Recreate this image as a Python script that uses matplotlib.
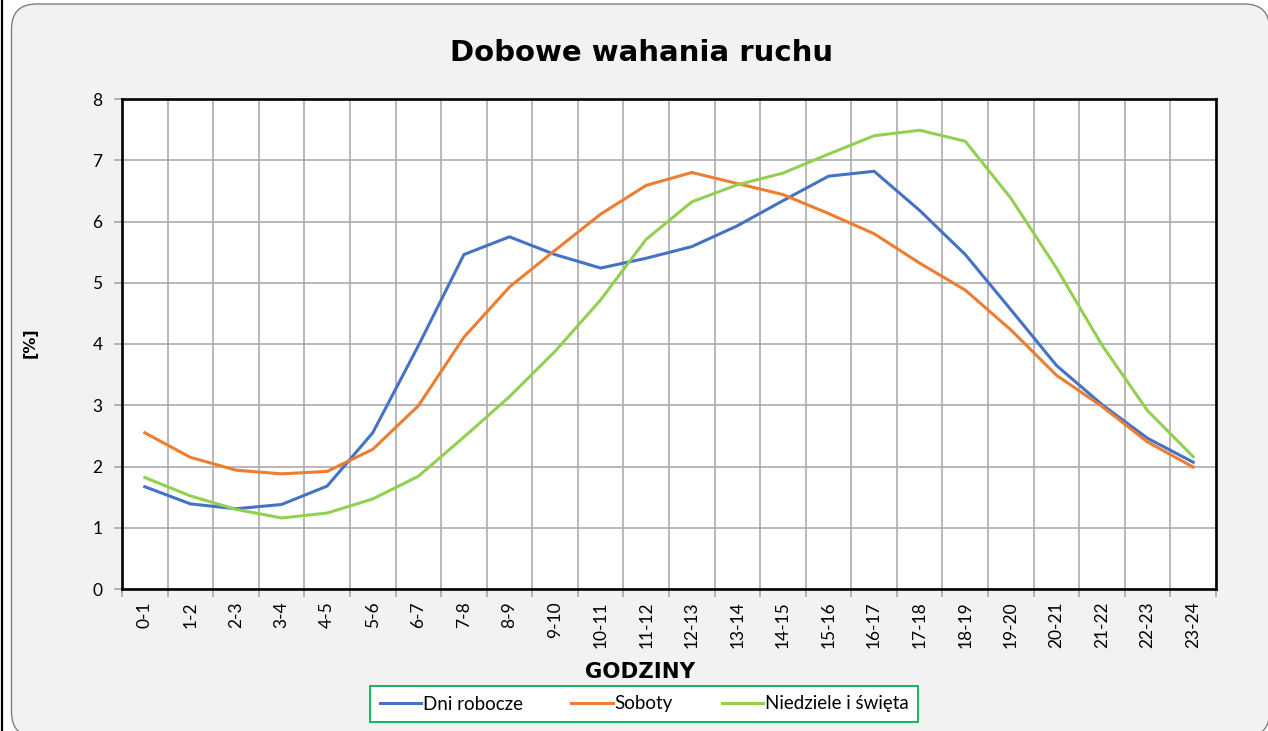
import matplotlib
matplotlib.use("Agg")
import matplotlib.pyplot as plt
from matplotlib.patches import FancyBboxPatch
from matplotlib.lines import Line2D
import numpy as np

plt.rcParams["font.family"] = ["Lato", "DejaVu Sans"]

hours = ["0-1", "1-2", "2-3", "3-4", "4-5", "5-6", "6-7", "7-8", "8-9", "9-10",
         "10-11", "11-12", "12-13", "13-14", "14-15", "15-16", "16-17", "17-18",
         "18-19", "19-20", "20-21", "21-22", "22-23", "23-24"]

dni_robocze = [1.67, 1.39, 1.31, 1.38, 1.68, 2.55, 3.97, 5.46, 5.75, 5.46, 5.24, 5.40,
               5.59, 5.93, 6.34, 6.74, 6.82, 6.18, 5.46, 4.56, 3.65, 3.01, 2.46, 2.07]
soboty = [2.55, 2.15, 1.94, 1.88, 1.92, 2.28, 2.99, 4.11, 4.93, 5.53, 6.12, 6.59,
          6.80, 6.62, 6.44, 6.13, 5.80, 5.32, 4.88, 4.23, 3.49, 2.98, 2.40, 1.99]
niedziele = [1.82, 1.52, 1.30, 1.16, 1.24, 1.47, 1.84, 2.48, 3.14, 3.88, 4.72, 5.71,
             6.32, 6.60, 6.79, 7.10, 7.40, 7.49, 7.31, 6.38, 5.24, 3.98, 2.91, 2.16]

series = [
    ("Dni robocze", dni_robocze, "#4472C4"),
    ("Soboty", soboty, "#ED7D31"),
    ("Niedziele i święta", niedziele, "#92D050"),
]

W, H = 1268, 731
fig = plt.figure(figsize=(W / 100, H / 100), dpi=100)
fig.patch.set_facecolor("white")

# rounded chart area (Excel style)
bg = FancyBboxPatch((0.115, -0.06), 12.58, 7.33,
                    boxstyle="round,pad=0,rounding_size=0.25",
                    transform=fig.dpi_scale_trans, facecolor="#F2F2F2",
                    edgecolor="#7F7F7F", linewidth=1.0, zorder=-10)
fig.patches.append(bg)
fig.lines.append(Line2D([2 / W, 2 / W], [0, 1], transform=fig.transFigure,
                        color="black", linewidth=1.6, zorder=-5))

ax = fig.add_axes([122 / W, 1 - 589 / H, (1216 - 122) / W, (589 - 99) / H])
ax.set_facecolor("white")

x = np.arange(len(hours))
for label, vals, color in series:
    ax.plot(x, vals, color=color, linewidth=2.2, label=label, zorder=3,
            solid_joinstyle="round")

ax.set_xlim(-0.5, len(hours) - 0.5)
ax.set_ylim(0, 8)
ax.set_yticks(range(0, 9))
ax.set_xticks(x)
ax.set_xticklabels(hours, rotation=90, fontsize=12.5)
ax.set_xticks(np.arange(-0.5, len(hours), 1.0), minor=True)
ax.tick_params(axis="x", which="major", length=0, pad=9)
ax.tick_params(axis="x", which="minor", length=6, color="#A6A6A6", width=1.2)
ax.tick_params(axis="y", length=6, color="#A6A6A6", width=1.2, labelsize=12.5, pad=8)

ax.grid(True, axis="y", color="#ABABAB", linewidth=1.2, zorder=1)
ax.grid(True, axis="x", which="minor", color="#ABABAB", linewidth=1.2, zorder=1)
ax.set_axisbelow(True)
for s in ax.spines.values():
    s.set_color("black")
    s.set_linewidth(1.9)
    s.set_zorder(4)

bold = ["DejaVu Sans"]
fig.text(642 / W, 1 - 53 / H, "Dobowe wahania ruchu", ha="center", va="center",
         fontsize=21, fontweight="bold", family=bold)
fig.text(30 / W, 1 - 343 / H, "[%]", ha="center", va="center", rotation=90,
         fontsize=11.5, fontweight="bold", family=bold)
fig.text(640 / W, 1 - 672 / H, "GODZINY", ha="center", va="center",
         fontsize=15.3, fontweight="bold", family=bold)

leg = fig.legend(loc="center", bbox_to_anchor=(644 / W, 1 - 704 / H), ncol=3,
                 fontsize=13.5, frameon=True, fancybox=False, handlelength=2.2,
                 handletextpad=0.1, columnspacing=2.6, borderpad=0.5,
                 borderaxespad=0)
leg.get_frame().set_edgecolor("#00B050")
leg.get_frame().set_linewidth(1.3)
leg.get_frame().set_facecolor("white")
leg.get_frame().set_alpha(1)

fig.savefig("out.png", dpi=100, facecolor="white")
